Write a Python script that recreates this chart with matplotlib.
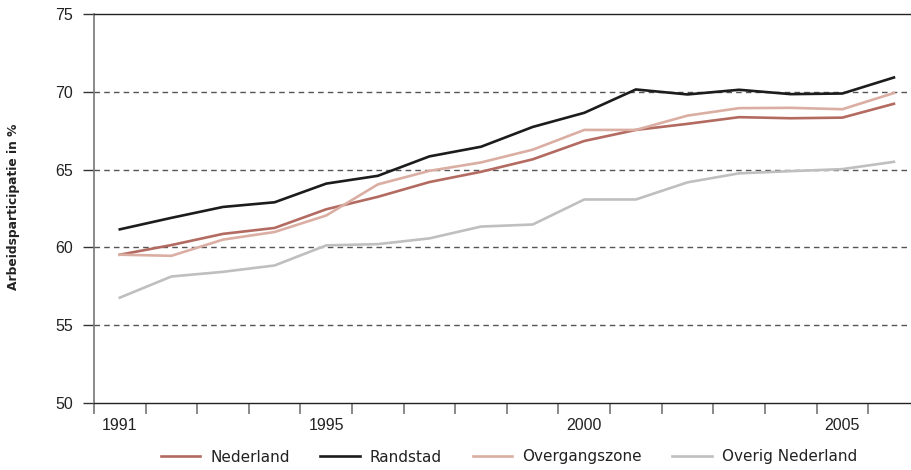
import matplotlib
matplotlib.use("Agg")
import matplotlib.pyplot as plt
import numpy as np

plt.rcParams['font.family'] = ['Liberation Sans', 'DejaVu Sans']

years = list(range(1991, 2007))
nederland = [59.53, 60.15, 60.87, 61.25, 62.45, 63.25, 64.2, 64.86, 65.66, 66.84,
             67.55, 67.94, 68.37, 68.3, 68.34, 69.23]
randstad = [61.16, 61.9, 62.6, 62.9, 64.1, 64.6, 65.85, 66.47, 67.74, 68.65,
            70.15, 69.83, 70.13, 69.85, 69.89, 70.92]
overgangszone = [59.53, 59.46, 60.5, 60.99, 62.05, 64.05, 64.92, 65.46, 66.28, 67.55,
                 67.55, 68.47, 68.95, 68.97, 68.88, 69.92]
overig = [56.77, 58.13, 58.43, 58.84, 60.13, 60.21, 60.58, 61.34, 61.47, 63.08,
          63.08, 64.18, 64.76, 64.9, 65.03, 65.5]
series_names = ["Nederland", "Randstad", "Overgangszone", "Overig Nederland"]
colors = ["#b36a60", "#1c1c1c", "#dbaea3", "#bfbfbf"]
label_years = [1991, 1995, 2000, 2005]
yticks = [50, 55, 60, 65, 70, 75]

fig = plt.figure(figsize=(9.12, 4.70), dpi=100)
ax = fig.add_axes([94/912, 1-403/470, 1-94/912, (403-14)/470])

for vals, name, c in zip([nederland, randstad, overgangszone, overig], series_names, colors):
    ax.plot(years, vals, color=c, lw=1.9, label=name, solid_joinstyle='miter')

ax.set_ylim(50, 75)
ax.set_xlim(1990.5, 2006.35)

for g in [55, 60, 65, 70]:
    ax.axhline(g, color="#555555", lw=1.0, ls=(0, (4, 3)), zorder=0)

ax.set_yticks(yticks)
ax.set_yticklabels([str(v) for v in yticks])
ax.tick_params(axis='y', length=8, width=1.0, color="#333333", pad=7,
               labelsize=11.5, labelcolor="#222222")

ax.set_xticks(np.arange(1990.5, 2006, 1.0))
ax.set_xticklabels([])
ax.set_xticks(label_years, minor=True)
ax.set_xticklabels([str(y) for y in label_years], minor=True)
ax.tick_params(axis='x', which='major', length=8, width=1.2, color="#777777", direction='out')
ax.tick_params(axis='x', which='minor', length=0, pad=11, labelsize=11.5, labelcolor="#222222")

ax.spines['right'].set_visible(False)
ax.spines['top'].set_color("#222222")
ax.spines['top'].set_linewidth(1.0)
ax.spines['bottom'].set_color("#222222")
ax.spines['bottom'].set_linewidth(1.0)
ax.spines['left'].set_color("#777777")
ax.spines['left'].set_linewidth(1.2)

fig.text(14/912, 1-207/470, "Arbeidsparticipatie in %", rotation=90, ha='center', va='center',
         fontsize=8.8, fontweight='bold', color="#222222", family='DejaVu Sans')

handles, labels = ax.get_legend_handles_labels()
fig.legend(handles, labels, loc='center', bbox_to_anchor=(509/912, 1-457/470), ncol=4,
           frameon=False, prop={'family': 'DejaVu Sans', 'size': 11},
           handlelength=2.6, handletextpad=0.65, columnspacing=2.0,
           labelcolor="#222222")

fig.savefig("out.png", dpi=100)
